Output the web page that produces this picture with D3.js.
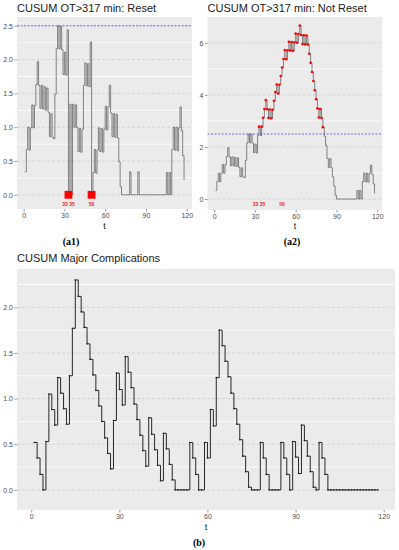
<!DOCTYPE html>
<html>
<head>
<meta charset="utf-8">
<script src="https://cdn.jsdelivr.net/npm/d3@7"></script>
<style>
  body { margin: 0; background: #fff; }
  svg { display: block; }
</style>
</head>
<body>
<svg id="chart" width="399" height="550"></svg>
<script>
// observation index t = 1..118
var tVals = d3.range(1, 119);

// CUSUM OT>317 min, reset after each signal
var resetVals = [
  0.34, 0.67, 1.00, 0.66, 0.99, 1.33, 0.99, 1.32, 1.63, 1.97,
  1.62, 1.28, 1.62, 1.27, 1.60, 1.25, 1.58, 1.22, 0.86, 1.20,
  0.85, 0.83, 1.49, 2.16, 2.50, 2.16, 2.49, 2.15, 1.78, 2.11,
  1.77, 2.44, 0.00, 1.34, 0.00, 1.34, 1.00, 1.33, 0.99, 0.64,
  0.98, 0.63, 0.97, 1.62, 1.95, 1.61, 1.94, 1.60, 2.26, 0.00,
  0.33, 0.67, 0.32, 0.66, 0.99, 0.64, 0.98, 0.63, 0.97, 1.31,
  0.96, 1.30, 1.62, 1.21, 0.86, 1.20, 0.85, 1.19, 0.84, 0.49,
  0.12, 0.00, 0.00, 0.00, 0.00, 0.00, 0.00, 0.34, 0.00, 0.00,
  0.00, 0.00, 0.00, 0.34, 0.00, 0.00, 0.00, 0.00, 0.00, 0.00,
  0.00, 0.00, 0.00, 0.00, 0.00, 0.00, 0.00, 0.00, 0.00, 0.00,
  0.00, 0.00, 0.00, 0.00, 0.33, 0.00, 0.33, 0.00, 0.67, 1.00,
  0.66, 1.00, 0.65, 0.99, 1.30, 0.95, 0.58, 0.22
];

// CUSUM OT>317 min, never reset
var notResetVals = [
  0.34, 0.67, 1.00, 0.66, 0.99, 1.33, 0.99, 1.32, 1.63, 1.97,
  1.62, 1.28, 1.62, 1.27, 1.60, 1.25, 1.58, 1.22, 0.86, 1.20,
  0.85, 0.83, 1.49, 2.16, 2.50, 2.16, 2.49, 2.15, 1.78, 2.11,
  1.77, 2.44, 2.78, 2.44, 2.78, 3.12, 3.46, 3.80, 3.45, 3.11,
  3.44, 3.10, 3.43, 3.77, 4.11, 4.40, 4.05, 4.39, 4.72, 5.05,
  5.38, 5.72, 5.37, 5.71, 6.04, 5.70, 6.03, 5.69, 6.02, 6.35,
  6.00, 6.34, 6.66, 6.30, 5.95, 6.29, 5.94, 6.28, 5.93, 5.58,
  5.23, 4.88, 4.53, 4.18, 3.83, 3.48, 3.13, 3.46, 3.11, 2.76,
  2.41, 2.06, 1.56, 1.21, 1.55, 1.20, 0.85, 0.50, 0.15, 0.00,
  0.00, 0.00, 0.00, 0.00, 0.00, 0.00, 0.00, 0.00, 0.00, 0.00,
  0.00, 0.00, 0.00, 0.00, 0.33, 0.00, 0.33, 0.00, 0.67, 1.00,
  0.66, 1.00, 0.65, 0.99, 1.30, 0.95, 0.58, 0.22
];

// CUSUM major complications
var majorVals = [
  0.52, 0.35, 0.17, 0.00, 0.53, 1.05, 0.88, 0.71, 1.23, 1.06,
  0.89, 0.72, 1.25, 1.77, 2.30, 2.12, 1.95, 1.78, 1.60, 1.43,
  1.26, 1.09, 0.92, 0.75, 0.57, 0.40, 0.23, 0.76, 1.28, 1.10,
  0.93, 1.46, 1.29, 1.12, 0.94, 0.77, 0.60, 0.43, 0.26, 0.79,
  0.61, 0.44, 0.27, 0.10, 0.62, 0.45, 0.28, 0.11, 0.00, 0.00,
  0.00, 0.00, 0.00, 0.52, 0.35, 0.17, 0.00, 0.00, 0.52, 0.35,
  0.88, 0.70, 1.23, 1.75, 1.58, 1.41, 1.24, 1.06, 0.89, 0.72,
  0.55, 0.37, 0.20, 0.03, 0.00, 0.00, 0.00, 0.52, 0.35, 0.17,
  0.00, 0.00, 0.00, 0.00, 0.52, 0.35, 0.17, 0.00, 0.53, 0.36,
  0.18, 0.71, 0.54, 0.37, 0.20, 0.03, 0.00, 0.52, 0.35, 0.17,
  0.00, 0.00, 0.00, 0.00, 0.00, 0.00, 0.00, 0.00, 0.00, 0.00,
  0.00, 0.00, 0.00, 0.00, 0.00, 0.00, 0.00, 0.00
];

var threshold = 2.5;
var signalTimes = [33, 50];
var signalLabels = ["33 35", "50"];

var xTicks = [0, 30, 60, 90, 120];
var a1Major = [0, 0.5, 1, 1.5, 2, 2.5];
var a1Minor = [0.25, 0.75, 1.25, 1.75, 2.25];
var a2Major = [0, 2, 4, 6];
var a2Minor = [1, 3, 5];
var bMajor = [0, 0.5, 1, 1.5, 2];
var bMinor = [0.25, 0.75, 1.25, 1.75, 2.25];

var sans = "'Liberation Sans', Arial, sans-serif";
var svg = d3.select("#chart");
var xLimits = [-4.85, 123.85];

function panel(o) {
    let x = d3.scaleLinear().domain(xLimits).range(o.xr),
        y = d3.scaleLinear().domain(o.yd).range(o.yr),
        g = svg.append("g");

    g.append("rect")
        .attr("x", o.xr[0]).attr("y", o.yr[1])
        .attr("width", o.xr[1] - o.xr[0]).attr("height", o.yr[0] - o.yr[1])
        .attr("fill", "#ebebeb");

    g.selectAll("line.minor").data(o.minor).enter().append("line")
        .attr("class", "minor")
        .attr("x1", o.xr[0]).attr("x2", o.xr[1])
        .attr("y1", d => y(d)).attr("y2", d => y(d))
        .attr("stroke", "#fff").attr("stroke-width", 0.8);

    g.selectAll("line.major").data(o.major).enter().append("line")
        .attr("class", "major")
        .attr("x1", o.xr[0]).attr("x2", o.xr[1])
        .attr("y1", d => y(d)).attr("y2", d => y(d))
        .attr("stroke", "#c4c4c4").attr("stroke-width", 0.6)
        .attr("stroke-dasharray", "3,2");

    let yAxis = d3.axisLeft(y).tickValues(o.major).tickFormat(o.fmt).tickSize(2.5).tickPadding(1.5),
        xAxis = d3.axisBottom(x).tickValues(xTicks).tickSize(2.5).tickPadding(1.5);

    let ya = g.append("g").attr("transform", "translate(" + o.xr[0] + ",0)").call(yAxis),
        xa = g.append("g").attr("transform", "translate(0," + o.yr[0] + ")").call(xAxis);
    [ya, xa].forEach(a => {
        a.select(".domain").remove();
        a.selectAll(".tick line").attr("stroke", "#333").attr("stroke-width", 0.5);
        a.selectAll(".tick text").attr("fill", "#4d4d4d").style("font-size", "7px").style("font-family", sans);
    });

    g.append("text").attr("x", o.xr[0]).attr("y", o.titleY)
        .style("font-family", sans).style("font-size", "11px").attr("fill", "#1a1a1a")
        .text(o.title);
    g.append("text").attr("x", (o.xr[0] + o.xr[1]) / 2).attr("y", o.tY)
        .attr("text-anchor", "middle")
        .style("font-family", sans).style("font-size", "9px").attr("fill", "#1a1a1a")
        .text("t");
    return { g: g, x: x, y: y };
}

function stepLine(p, vals, color, width) {
    let line = d3.line()
        .x((d, i) => p.x(tVals[i]))
        .y(d => p.y(d))
        .curve(d3.curveStepAfter);
    p.g.append("path").datum(vals)
        .attr("d", line)
        .attr("fill", "none")
        .attr("stroke", color)
        .attr("stroke-width", width);
}

function thresholdLine(p) {
    p.g.append("line")
        .attr("x1", p.x.range()[0]).attr("x2", p.x.range()[1])
        .attr("y1", p.y(threshold)).attr("y2", p.y(threshold))
        .attr("stroke", "#4d4dff").attr("stroke-width", 0.8)
        .attr("stroke-dasharray", "2,1.5");
}

// (a1) reset chart
var a1 = panel({ xr: [17, 192], yd: [-0.21, 2.63], yr: [209, 17], major: a1Major, minor: a1Minor,
    fmt: d3.format(".1f"), title: "CUSUM OT>317 min: Reset", titleY: 12, tY: 229 });
thresholdLine(a1);
stepLine(a1, resetVals, "#3a3a3a", 0.6);
a1.g.selectAll("rect.sig").data(signalTimes).enter().append("rect")
    .attr("class", "sig")
    .attr("x", d => a1.x(d) - 3.9).attr("y", a1.y(0) - 3.9)
    .attr("width", 7.8).attr("height", 7.8)
    .attr("fill", "#ff0000");
a1.g.selectAll("text.sig").data(signalTimes).enter().append("text")
    .attr("class", "sig")
    .attr("x", d => a1.x(d)).attr("y", a1.y(-0.16))
    .attr("text-anchor", "middle")
    .style("font-family", sans).style("font-size", "5px").style("font-weight", "bold")
    .attr("fill", "#ee2222")
    .text((d, i) => signalLabels[i]);

// (a2) not reset chart
var a2 = panel({ xr: [207.5, 382.5], yd: [-0.42, 6.99], yr: [210, 17], major: a2Major, minor: a2Minor,
    fmt: d3.format("d"), title: "CUSUM OT>317 min: Not Reset", titleY: 12, tY: 229 });
thresholdLine(a2);
stepLine(a2, notResetVals, "#3a3a3a", 0.6);
a2.g.selectAll("circle.hi").data(notResetVals.map((v, i) => [tVals[i], v]).filter(d => d[1] > threshold))
    .enter().append("circle")
    .attr("class", "hi")
    .attr("cx", d => a2.x(d[0])).attr("cy", d => a2.y(d[1]))
    .attr("r", 1.3).attr("fill", "#ff0000");
a2.g.selectAll("text.sig").data(signalTimes).enter().append("text")
    .attr("class", "sig")
    .attr("x", d => a2.x(d)).attr("y", a2.y(-0.25))
    .attr("text-anchor", "middle")
    .style("font-family", sans).style("font-size", "5px").style("font-weight", "bold")
    .attr("fill", "#ee2222")
    .text((d, i) => signalLabels[i]);

// (b) major complications
var b = panel({ xr: [17, 395], yd: [-0.22, 2.42], yr: [510, 269], major: bMajor, minor: bMinor,
    fmt: d3.format(".1f"), title: "CUSUM Major Complications", titleY: 262, tY: 530 });
stepLine(b, majorVals, "#111", 0.9);
b.g.selectAll("circle.pt").data(majorVals).enter().append("circle")
    .attr("class", "pt")
    .attr("cx", (d, i) => b.x(tVals[i])).attr("cy", d => b.y(d))
    .attr("r", 0.8).attr("fill", "#222");

// sub-figure tags
[["(a1)", 71, 245], ["(a2)", 292, 245], ["(b)", 199, 546]].forEach(l => {
    svg.append("text").attr("x", l[1]).attr("y", l[2])
        .attr("text-anchor", "middle")
        .style("font-family", "'Liberation Serif', 'Times New Roman', serif")
        .style("font-size", "10px").style("font-weight", "bold")
        .text(l[0]);
});
</script>
</body>
</html>
